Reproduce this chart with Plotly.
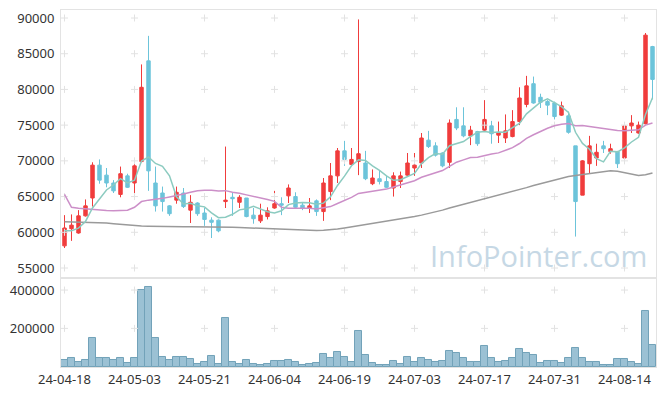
import plotly.graph_objects as go
import pandas as pd

dates = ["2024-04-18","2024-04-19","2024-04-22","2024-04-23","2024-04-24","2024-04-25","2024-04-26","2024-04-29","2024-04-30",
         "2024-05-02","2024-05-03","2024-05-07","2024-05-08","2024-05-09","2024-05-10","2024-05-13","2024-05-14","2024-05-16",
         "2024-05-17","2024-05-20","2024-05-21","2024-05-22","2024-05-23","2024-05-24","2024-05-27","2024-05-28","2024-05-29",
         "2024-05-30","2024-05-31","2024-06-03","2024-06-04","2024-06-05","2024-06-07","2024-06-10","2024-06-11","2024-06-12",
         "2024-06-13","2024-06-14","2024-06-17","2024-06-18","2024-06-19","2024-06-20","2024-06-21","2024-06-24","2024-06-25",
         "2024-06-26","2024-06-27","2024-06-28","2024-07-01","2024-07-02","2024-07-03","2024-07-04","2024-07-05","2024-07-08",
         "2024-07-09","2024-07-10","2024-07-11","2024-07-12","2024-07-15","2024-07-16","2024-07-17","2024-07-18","2024-07-19",
         "2024-07-22","2024-07-23","2024-07-24","2024-07-25","2024-07-26","2024-07-29","2024-07-30","2024-07-31","2024-08-01",
         "2024-08-02","2024-08-05","2024-08-06","2024-08-07","2024-08-08","2024-08-09","2024-08-12","2024-08-13","2024-08-14",
         "2024-08-16","2024-08-19","2024-08-20","2024-08-21"]

opens = [58100,60500,59900,62300,64800,69400,68000,66900,65300,67900,66900,69900,84000,66900,65500,63700,64500,65500,63100,64100,
         62700,61700,61700,64300,64900,64200,64800,62400,61600,62200,63400,64000,65100,65000,63800,63400,64400,62900,65700,67900,
         71400,69500,69900,69700,66800,67500,67100,66200,67100,68000,69000,69700,72900,72100,71100,69800,75800,74900,73500,74100,
         74300,74900,73600,73200,73400,75500,77900,80800,78900,78300,78100,76400,76300,72100,65200,69600,70400,72100,71300,71300,
         70400,74900,73900,75200,86000]
highs = [62400,62500,63100,64600,69800,70200,69000,67300,69200,68200,69700,83500,87500,69200,66400,63800,66400,66200,65200,64200,
         63400,62100,61800,72000,65600,65200,64800,63400,64000,63500,65800,64900,66700,65600,64200,64800,64600,67600,69700,71800,
         72800,71800,89800,71400,68800,68700,67900,68400,68500,71100,71100,73900,74200,72600,71200,75800,77500,77500,74900,74200,
         78500,75600,75500,76500,77100,80300,81900,81800,79400,78500,78300,78300,76900,72100,70100,73500,72400,72800,72400,71400,
         75200,76400,75500,87900,86100]
lows = [57800,58800,59800,62200,63600,66800,66300,65500,64900,66200,65500,69800,65800,62900,62900,62300,64000,63400,61300,62300,
        60900,59200,60000,63400,62300,63400,62100,61200,61300,61800,63300,62400,64100,63400,63100,62700,62300,61600,64500,66900,
        69300,69400,68000,67300,66600,66700,66200,65000,66200,67900,67900,69000,71800,70600,69100,69000,74300,73300,72200,72100,
        74100,72400,72500,72500,73300,75000,77500,78000,77400,76400,75800,76300,73800,59400,65200,68300,69300,71100,71000,69000,
        70300,73900,73800,75100,78600]
closes = [60600,61000,62300,63700,69400,67300,66900,65800,68200,66300,69300,80300,68600,63700,64300,62600,65600,63600,64200,62600,
          61800,61400,60200,64500,64700,64900,62200,61900,62400,63000,64000,63800,66200,63500,63400,63700,62900,66900,67900,71400,
          70200,70200,71000,67500,67600,67100,66300,67900,67900,69700,69400,73200,72000,70800,69300,75300,74600,73500,74300,72400,
          75800,73800,73900,74200,75500,78800,80500,78100,78200,77800,76200,77700,74000,64300,70000,72100,71200,71700,71700,69600,
          74900,75300,75000,87600,81400]
volumes = [35000,43900,23000,35000,148300,43900,43900,35000,43900,17700,
           43900,400500,417800,148300,50700,35000,50700,50700,40200,14100,
           23000,55900,14100,254300,26100,14100,35000,14100,8900,14100,
           29800,29800,35000,23000,8900,14100,17700,66300,43900,76800,
           50700,23000,186400,61100,17700,8900,7000,29800,14100,50700,
           23000,45600,35000,23000,29800,82000,70000,43900,23000,23000,
           108100,43900,23000,29800,43900,90900,70000,59500,17700,29800,
           29800,17700,43900,97700,43900,23000,23000,8900,8900,40200,
           40200,23000,14100,290900,111700]
# closes before the first shown day (estimated from the 5-day line)
prior_closes = [61000,60500,59000,60000]
# 20-day line values read for the first 19 days (prior data not shown)
ma20_lead = [65300,63500,63350,63250,63200,63100,63050,63000,63000,63100,63500,64300,64500,64600,64750,64950,65100,65350,65600]
# long moving average
ma_long = [61480,61450,61420,61400,61380,61370,61300,61200,61100,61000,60920,60880,60850,60820,60800,60790,60780,60780,60780,60780,
           60780,60770,60750,60720,60690,60660,60620,60570,60520,60470,60430,60380,60330,60280,60250,60230,60250,60270,60320,60450,
           60600,60750,60900,61050,61200,61350,61500,61650,61850,62000,62200,62400,62600,62850,63100,63400,63650,63900,64150,64450,
           64700,64950,65200,65450,65700,66000,66250,66550,66800,67100,67400,67600,67800,67950,68100,68250,68400,68500,68600,68550,
           68350,68150,67950,68050,68300]

price_ticks = [55000, 60000, 65000, 70000, 75000, 80000, 85000, 90000]
vol_ticks = [200000, 400000]
tick_idx = list(range(0, len(dates), 10))
tick_text = [pd.Timestamp(dates[i]).strftime("%y-%m-%d") for i in tick_idx]

x = list(range(len(dates)))
cs = pd.Series(prior_closes + closes)
ma5 = cs.rolling(5).mean().iloc[len(prior_closes):].tolist()
ma20_roll = pd.Series(closes).rolling(20).mean().tolist()
ma20 = ma20_lead + ma20_roll[len(ma20_lead):]

RED = "#f03c3c"
BLUE = "#6cc4da"
GRID = "#e2e2e2"
FONT = "Noto Sans"

fig = go.Figure()

# grid crosses
gx = [i for i in tick_idx for _ in price_ticks]
gy = [v for _ in tick_idx for v in price_ticks]
fig.add_trace(go.Scatter(x=gx, y=gy, mode="markers", xaxis="x", yaxis="y",
                         marker=dict(symbol="cross-thin", size=5, line=dict(color=GRID, width=1)),
                         hoverinfo="skip", showlegend=False))
gx2 = [i for i in tick_idx for _ in vol_ticks]
gy2 = [v for _ in tick_idx for v in vol_ticks]
fig.add_trace(go.Scatter(x=gx2, y=gy2, mode="markers", xaxis="x2", yaxis="y2",
                         marker=dict(symbol="cross-thin", size=5, line=dict(color=GRID, width=1)),
                         hoverinfo="skip", showlegend=False))

fig.add_trace(go.Scatter(x=x, y=ma_long, mode="lines", line=dict(color="#9a9a9a", width=1.5),
                         xaxis="x", yaxis="y", showlegend=False))
fig.add_trace(go.Scatter(x=x, y=ma20, mode="lines", line=dict(color="#cc8fc8", width=1.5),
                         xaxis="x", yaxis="y", showlegend=False))
fig.add_trace(go.Scatter(x=x, y=ma5, mode="lines", line=dict(color="#8ccbc0", width=1.5),
                         xaxis="x", yaxis="y", showlegend=False))

fig.add_trace(go.Candlestick(x=x, open=opens, high=highs, low=lows, close=closes,
                             increasing=dict(line=dict(color=RED, width=1), fillcolor=RED),
                             decreasing=dict(line=dict(color=BLUE, width=1), fillcolor=BLUE),
                             whiskerwidth=0, xaxis="x", yaxis="y", showlegend=False))

fig.add_trace(go.Bar(x=x, y=volumes, xaxis="x2", yaxis="y2",
                     marker=dict(color="rgba(130,178,201,0.8)", line=dict(color="#72a2b9", width=1)),
                     showlegend=False))

axis_line = dict(showline=True, linecolor="#e3e3e3", linewidth=1, mirror=True, showgrid=False,
                 zeroline=False, automargin=False)

# the page body adds an 8px margin, so the figure is sized to fit 665x396 with it
fig.update_layout(
    width=657, height=388,
    margin=dict(l=53, r=9, t=2, b=29),
    paper_bgcolor="white", plot_bgcolor="white",
    bargap=0,
    font=dict(family=FONT, size=13, color="#333333"),
    xaxis=dict(domain=[0, 1], range=[-0.5, len(dates) - 0.5], autorange=False, anchor="y",
               showticklabels=False, rangeslider=dict(visible=False), tickvals=tick_idx, ticks="",
               **axis_line),
    xaxis2=dict(domain=[0, 1], range=[-0.5, len(dates) - 0.5], autorange=False, anchor="y2",
                tickvals=tick_idx, ticktext=tick_text, ticks="", **axis_line),
    yaxis=dict(domain=[0.2493, 1], range=[53600, 91120], autorange=False, tickvals=price_ticks,
               tickformat="d", ticks="outside", ticklen=3, tickcolor="white", **axis_line),
    yaxis2=dict(domain=[0, 0.2493], range=[-1500, 463000], autorange=False, tickvals=vol_ticks,
                tickformat="d", ticks="outside", ticklen=3, tickcolor="white", **axis_line),
    annotations=[dict(text="InfoPointer.com", xref="paper", yref="paper", x=0.803, y=0.311,
                      xanchor="center", yanchor="middle", showarrow=False,
                      font=dict(family="Open Sans", size=29, color="#c6d8e5"))],
)

fig.write_html("out.html")
